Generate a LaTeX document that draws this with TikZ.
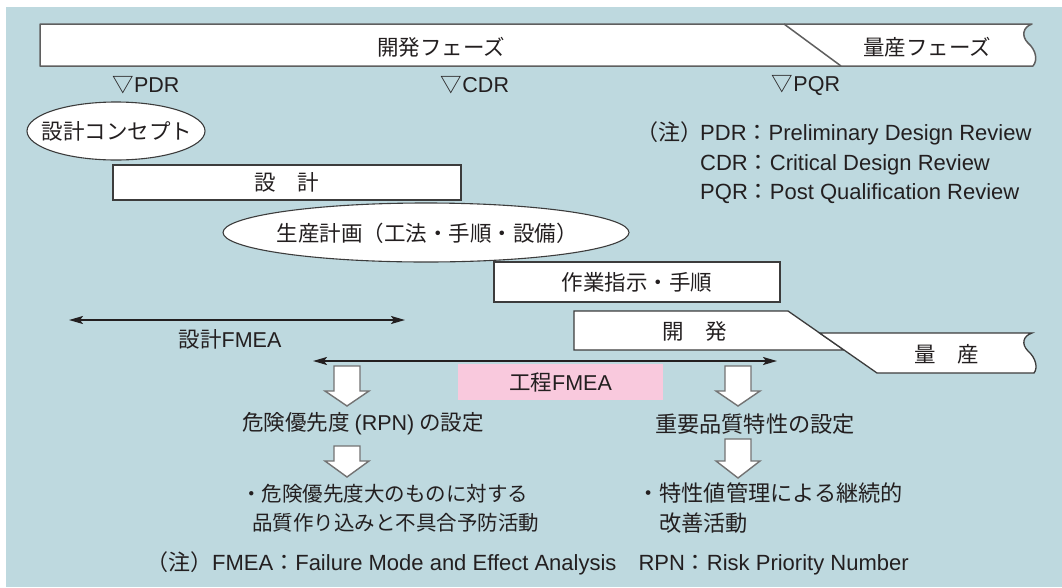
\documentclass[tikz,border=0pt]{standalone}
\usepackage{fontspec}
\setmainfont{Liberation Sans}
\newfontfamily\jp{Noto Sans CJK JP}
\usetikzlibrary{arrows.meta}
\definecolor{bg}{RGB}{190,217,223}
\definecolor{pinkbox}{RGB}{249,201,221}
\definecolor{edge}{RGB}{60,60,60}
\definecolor{baredge}{RGB}{95,95,95}
\definecolor{ink}{RGB}{35,31,32}
\definecolor{blockedge}{RGB}{115,115,115}
\newcommand\J[1]{{\jp #1}}
\newcommand\blockarr[4]{%
  \draw[blockarrow] ({#1-13},#2) -- ({#1+13},#2) -- ({#1+13},#3) -- ({#1+22},#3)
    -- (#1,#4) -- ({#1-22},#3) -- ({#1-13},#3) -- cycle;}
\begin{document}
\begin{tikzpicture}[x=1pt,y=-1pt,
  every node/.style={text=ink, font=\fontsize{21.5}{30}\selectfont, inner sep=0pt},
  notefont/.style={font=\fontsize{22}{30}\selectfont},
  smallline/.style={font=\fontsize{20.5}{30}\selectfont},
  bigline/.style={font=\fontsize{22.2}{30}\selectfont},
  barline/.style={draw=baredge, line width=1.5pt, line join=round},
  shapeline/.style={draw=edge, line width=1.3pt, fill=white, line join=miter},
  boxst/.style={draw=edge, line width=1.3pt, fill=white},
  ellline/.style={draw=edge, line width=1.1pt, fill=white},
  dbl/.style={{Stealth[length=14pt,width=8pt,inset=3pt]}-{Stealth[length=14pt,width=8pt,inset=3pt]}, line width=1.8pt, draw=ink},
  blockarrow/.style={draw=blockedge, line width=1.4pt, fill=white, line join=miter},
]
\useasboundingbox (0,0) rectangle (1062,587);
\fill[bg] (6,7) rectangle (1062,587);

% phase bar
\draw[barline, fill=white] (40,24) -- (1032,24) .. controls (1023,27) and (1021,36) .. (1028,43)
  .. controls (1036,50) and (1038,60) .. (1033,66) -- (40,66) -- cycle;
\draw[barline] (784,24) -- (841,66);
\node (devphase) at (441,47) {\J{開発フェーズ}};
\node (massphase) at (927,47) {\J{量産フェーズ}};

% milestones
\node (pdr) at (146,85) {\J{▽}PDR};
\node (cdr) at (475,85) {\J{▽}CDR};
\node (pqr) at (806,85) {\J{▽}PQR};

% notes
\node[notefont, anchor=base west] (notehead) at (636,140) {\J{（注）}};
\node[notefont, anchor=base west] (note1) at (700,140) {PDR\J{：}Preliminary Design Review};
\node[notefont, anchor=base west] (note2) at (700,170) {CDR\J{：}Critical Design Review};
\node[notefont, anchor=base west] (note3) at (700,199) {PQR\J{：}Post Qualification Review};

% design concept
\draw[ellline] (116,131) ellipse [x radius=89, y radius=29];
\node (concept) at (117,131) {\J{設計コンセプト}};

% design box
\node[boxst, minimum width=348pt, minimum height=35pt] (design) at (287,182.5) {\J{設　計}};

% production plan ellipse
\draw[ellline] (426,232.5) ellipse [x radius=203, y radius=29.5];
\node (prodplan) at (427,233) {\J{生産計画（工法・手順・設備）}};

% work instruction box
\node[boxst, minimum width=286pt, minimum height=40pt] (work) at (637,282) {\J{作業指示・手順}};

% development / mass production
\draw[shapeline] (574,311) -- (788,311) -- (844,350) -- (574,350) -- cycle;
\draw[shapeline] (819.6,333) -- (1032,333) .. controls (1023,336) and (1021,344) .. (1028,351)
  .. controls (1036,358) and (1038,368) .. (1034,373) -- (877,373) -- cycle;
\node (dev) at (695,331) {\J{開　発}};
\node (mass) at (947,354) {\J{量　産}};

% FMEA spans
\coordinate (dA) at (69,320);
\coordinate (dB) at (405,320);
\draw[dbl] (dA) -- (dB);
\node (dfmea) at (230,339) {\J{設計}FMEA};
\node[fill=pinkbox, minimum width=205pt, minimum height=36pt] (pfmea) at (560.5,382) {\J{工程}FMEA};
\coordinate (pA) at (313,361);
\coordinate (pB) at (777,361);
\draw[dbl] (pA) -- (pB);

% block arrows
\blockarr{347}{366}{391}{406}
\blockarr{738}{366}{391}{406}
\blockarr{347}{446}{461}{477}
\blockarr{738}{439}{461}{478}

% results
\node (rpn) at (363,424) {\J{危険優先度}\hspace{5pt}(RPN)\hspace{5pt}\J{の設定}};
\node[bigline] (cq) at (755,424) {\J{重要品質特性の設定}};
\node[smallline, anchor=west] (l1) at (241,494) {\J{・危険優先度大のものに対する}};
\node[smallline, anchor=west] (l2) at (252,523) {\J{品質作り込みと不具合予防活動}};
\node[bigline, anchor=west] (r1) at (637,493) {\J{・特性値管理による継続的}};
\node[bigline, anchor=west] (r2) at (659,523) {\J{改善活動}};

% bottom note
\node[notefont, anchor=base west] (bnote) at (146,570) {\J{（注）}FMEA\J{：}Failure Mode and Effect Analysis\J{　}RPN\J{：}Risk Priority Number};
\end{tikzpicture}
\end{document}
